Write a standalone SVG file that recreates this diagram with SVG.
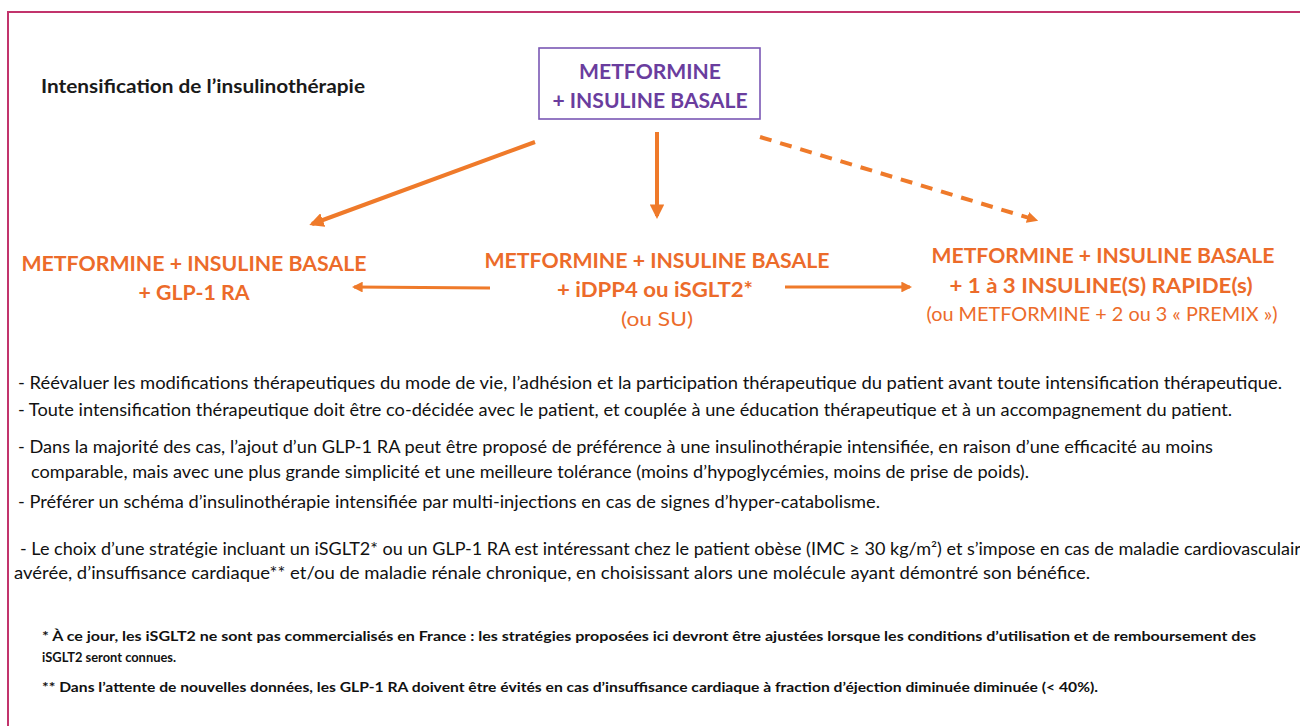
<svg xmlns="http://www.w3.org/2000/svg" width="1300" height="726" viewBox="0 0 1300 726">
  <style>
    .frame { fill: none; stroke: #c2346c; stroke-width: 2; }
    .title { font-family: Lato, "Liberation Sans", sans-serif; font-weight: 700; font-size: 18px; fill: #1a1a1a; }
    .box { fill: #ffffff; stroke: #7a57b4; stroke-width: 1.6; }
    .boxtxt { font-family: Lato, "Liberation Sans", sans-serif; font-weight: 700; font-size: 21px; fill: #6a3d9e; text-anchor: middle; }
    .node { font-family: Lato, "Liberation Sans", sans-serif; font-weight: 700; font-size: 21px; fill: #ec6b2a; text-anchor: middle; }
    .nodesub { font-family: Lato, "Liberation Sans", sans-serif; font-weight: 400; font-size: 19px; fill: #ec6b2a; text-anchor: middle; }
    .body { font-family: Lato, "Liberation Sans", sans-serif; font-weight: 400; font-size: 17px; fill: #111111; }
    .note { font-family: Lato, "Liberation Sans", sans-serif; font-weight: 700; font-size: 14px; fill: #111111; }
    .arrow { fill: none; stroke: #ef7a2a; stroke-width: 4; }
    .thin { fill: none; stroke: #ef7a2a; stroke-width: 3; }
    .dash { fill: none; stroke: #ef7a2a; stroke-width: 4; stroke-dasharray: 12 9; }
  </style>
  <defs>
    <marker id="head" viewBox="0 0 10 10" refX="8" refY="5" markerWidth="3.6" markerHeight="3.6" orient="auto" markerUnits="strokeWidth">
      <path d="M0,0 L10,5 L0,10 Z" fill="#ef7a2a"/>
    </marker>
    <marker id="headSmall" viewBox="0 0 10 10" refX="8" refY="5" markerWidth="2.8" markerHeight="2.8" orient="auto" markerUnits="strokeWidth">
      <path d="M0,0 L10,5 L0,10 Z" fill="#ef7a2a"/>
    </marker>
    <marker id="headThin" viewBox="0 0 10 10" refX="8" refY="5" markerWidth="3.6" markerHeight="3.6" orient="auto" markerUnits="strokeWidth">
      <path d="M0,0 L10,5 L0,10 Z" fill="#ef7a2a"/>
    </marker>
  </defs>

  <rect width="1300" height="726" fill="#ffffff"/>
  <path class="frame" d="M8,726 L8,12 L1300,12"/>

  <text class="title" x="41" y="93" textLength="324" lengthAdjust="spacingAndGlyphs">Intensification de l’insulinothérapie</text>

  <!-- connectors -->
  <g id="connectors">
    <line class="arrow" x1="535" y1="142" x2="312" y2="224" marker-end="url(#head)"/>
    <line class="arrow" x1="657" y1="132" x2="657" y2="216" marker-end="url(#head)"/>
    <line class="dash" x1="760" y1="137" x2="1036" y2="220" marker-end="url(#headSmall)"/>
    <line class="thin" x1="490" y1="288" x2="354" y2="287" marker-end="url(#headThin)"/>
    <line class="thin" x1="785" y1="287" x2="910" y2="287" marker-end="url(#headThin)"/>
  </g>

  <!-- starting therapy -->
  <g id="node-start">
    <rect class="box" x="539" y="48" width="221" height="71"/>
    <text class="boxtxt" x="650" y="79" textLength="142" lengthAdjust="spacingAndGlyphs">METFORMINE</text>
    <text class="boxtxt" x="650" y="108" textLength="195" lengthAdjust="spacingAndGlyphs">+ INSULINE BASALE</text>
  </g>

  <g id="node-glp1">
    <text class="node" x="194" y="271" textLength="345" lengthAdjust="spacingAndGlyphs">METFORMINE + INSULINE BASALE</text>
    <text class="node" x="194" y="300" textLength="111" lengthAdjust="spacingAndGlyphs">+ GLP-1 RA</text>
  </g>

  <g id="node-oral">
    <text class="node" x="657" y="268" textLength="345" lengthAdjust="spacingAndGlyphs">METFORMINE + INSULINE BASALE</text>
    <text class="node" x="655" y="297" textLength="196" lengthAdjust="spacingAndGlyphs">+ iDPP4 ou iSGLT2*</text>
    <text class="nodesub" x="657" y="326" textLength="72" lengthAdjust="spacingAndGlyphs">(ou SU)</text>
  </g>

  <g id="node-rapid">
    <text class="node" x="1103" y="263" textLength="343" lengthAdjust="spacingAndGlyphs">METFORMINE + INSULINE BASALE</text>
    <text class="node" x="1101" y="293" textLength="303" lengthAdjust="spacingAndGlyphs">+ 1 à 3 INSULINE(S) RAPIDE(s)</text>
    <text class="nodesub" x="1102" y="321" textLength="351" lengthAdjust="spacingAndGlyphs">(ou METFORMINE + 2 ou 3 « PREMIX »)</text>
  </g>

  <!-- recommendations -->
  <g id="recommendations">
    <text class="body" x="18" y="389" textLength="1264" lengthAdjust="spacingAndGlyphs">- Réévaluer les modifications thérapeutiques du mode de vie, l’adhésion et la participation thérapeutique du patient avant toute intensification thérapeutique.</text>
    <text class="body" x="18" y="416" textLength="1214" lengthAdjust="spacingAndGlyphs">- Toute intensification thérapeutique doit être co-décidée avec le patient, et couplée à une éducation thérapeutique et à un accompagnement du patient.</text>
    <text class="body" x="18" y="453" textLength="1195" lengthAdjust="spacingAndGlyphs">- Dans la majorité des cas, l’ajout d’un GLP-1 RA peut être proposé de préférence à une insulinothérapie intensifiée, en raison d’une efficacité au moins</text>
    <text class="body" x="31" y="478" textLength="998" lengthAdjust="spacingAndGlyphs">comparable, mais avec une plus grande simplicité et une meilleure tolérance (moins d’hypoglycémies, moins de prise de poids).</text>
    <text class="body" x="18" y="508" textLength="862" lengthAdjust="spacingAndGlyphs">- Préférer un schéma d’insulinothérapie intensifiée par multi-injections en cas de signes d’hyper-catabolisme.</text>
    <text class="body" x="20" y="555" textLength="1290" lengthAdjust="spacingAndGlyphs">- Le choix d’une stratégie incluant un iSGLT2* ou un GLP-1 RA est intéressant chez le patient obèse (IMC ≥ 30 kg/m²) et s’impose en cas de maladie cardiovasculaire</text>
    <text class="body" x="14" y="579" textLength="1076" lengthAdjust="spacingAndGlyphs">avérée, d’insuffisance cardiaque** et/ou de maladie rénale chronique, en choisissant alors une molécule ayant démontré son bénéfice.</text>
  </g>

  <!-- footnotes -->
  <g id="footnotes">
    <text class="note" x="42" y="641" textLength="1214" lengthAdjust="spacingAndGlyphs">* À ce jour, les iSGLT2 ne sont pas commercialisés en France : les stratégies proposées ici devront être ajustées lorsque les conditions d’utilisation et de remboursement des</text>
    <text class="note" x="42" y="662" textLength="134" lengthAdjust="spacingAndGlyphs">iSGLT2 seront connues.</text>
    <text class="note" x="42" y="692" textLength="1056" lengthAdjust="spacingAndGlyphs">** Dans l’attente de nouvelles données, les GLP-1 RA doivent être évités en cas d’insuffisance cardiaque à fraction d’éjection diminuée diminuée (&lt; 40%).</text>
  </g>
</svg>
